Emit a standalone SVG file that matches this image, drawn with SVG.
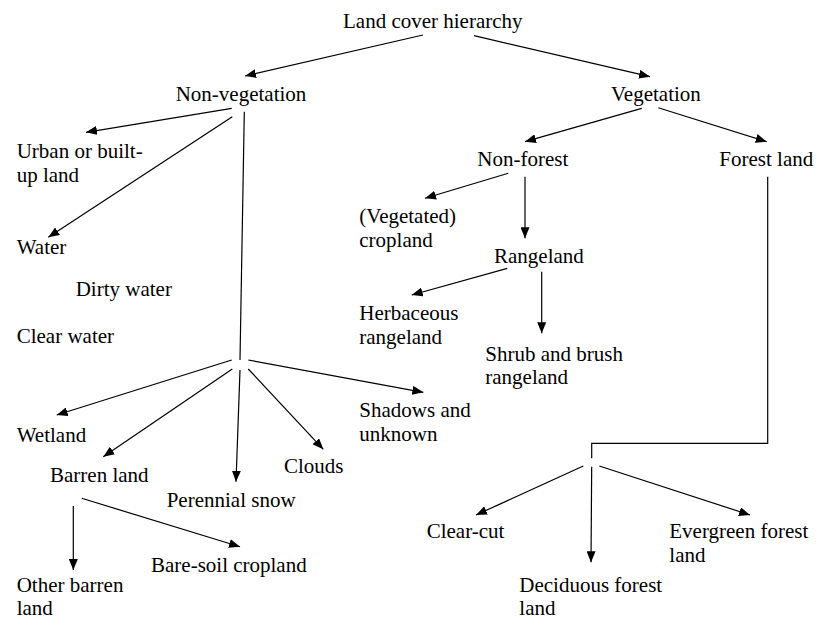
<svg xmlns="http://www.w3.org/2000/svg" width="817" height="620" viewBox="0 0 817 620">
<defs>
<style>
text{font-family:"Liberation Serif","DejaVu Serif",serif;font-size:21px;fill:#000}
.c line,.c polyline{stroke:#000;stroke-width:1.2;fill:none}
.a{marker-end:url(#ah)}
</style>
<marker id="ah" markerUnits="userSpaceOnUse" markerWidth="11" markerHeight="9" refX="11" refY="4.5" orient="auto">
<path d="M0,0 L11,4.5 L0,9 z" fill="#000"/>
</marker>
</defs>
<rect width="817" height="620" fill="#fff"/>
<g class="c" id="connectors">
<line class="a" x1="423" y1="35" x2="245" y2="76"/>
<line class="a" x1="474" y1="35.7" x2="650" y2="76.7"/>
<line class="a" x1="231.7" y1="108.3" x2="86" y2="132.3"/>
<line class="a" x1="232.3" y1="116.7" x2="48.3" y2="237.3"/>
<line x1="244.3" y1="111.7" x2="240" y2="360"/>
<line class="a" x1="231.7" y1="360" x2="56.7" y2="415"/>
<line class="a" x1="232.3" y1="369" x2="103.3" y2="456.7"/>
<line class="a" x1="240" y1="370" x2="236" y2="481.7"/>
<line class="a" x1="248.3" y1="369" x2="323.3" y2="449.3"/>
<line class="a" x1="248.3" y1="360" x2="423.3" y2="392.3"/>
<line class="a" x1="73.3" y1="506" x2="73.3" y2="570"/>
<line class="a" x1="81.7" y1="498.3" x2="240" y2="546.7"/>
<line class="a" x1="641.7" y1="108.3" x2="525" y2="141.7"/>
<line class="a" x1="658.3" y1="107.7" x2="766.7" y2="141.7"/>
<line class="a" x1="508.3" y1="173.3" x2="425" y2="198.3"/>
<line class="a" x1="525" y1="176.7" x2="525" y2="238.3"/>
<line class="a" x1="507.3" y1="268.3" x2="411.7" y2="295"/>
<line class="a" x1="541.7" y1="271.7" x2="541.7" y2="333.3"/>
<polyline points="767.7,176.7 767.7,443.3 591.7,443.3 591.7,458.3"/>
<line class="a" x1="583.3" y1="466" x2="476" y2="515"/>
<line class="a" x1="591.7" y1="466.7" x2="591" y2="562.3"/>
<line class="a" x1="599.3" y1="466" x2="750" y2="515"/>
</g>
<g font-family="Liberation Serif, DejaVu Serif, serif">
<g id="n-root"><text x="343" y="28.3">Land cover hierarchy</text></g>
<g id="n-nonveg"><text x="175.7" y="101">Non-vegetation</text></g>
<g id="n-veg"><text x="611" y="101">Vegetation</text></g>
<g id="n-urban"><text x="16.7" y="158">Urban or built-</text><text x="16.7" y="181.7">up land</text></g>
<g id="n-nonforest"><text x="477.3" y="165.7">Non-forest</text></g>
<g id="n-forest"><text x="719.3" y="165.7">Forest land</text></g>
<g id="n-vegcrop"><text x="359.3" y="223">(Vegetated)</text><text x="359.3" y="246.5">cropland</text></g>
<g id="n-water"><text x="16.7" y="254.3">Water</text></g>
<g id="n-dirty"><text x="75.7" y="296">Dirty water</text></g>
<g id="n-clear"><text x="16.7" y="343.3">Clear water</text></g>
<g id="n-range"><text x="494" y="262.7">Rangeland</text></g>
<g id="n-herb"><text x="359.3" y="320">Herbaceous</text><text x="359.3" y="343.5">rangeland</text></g>
<g id="n-shrub"><text x="485.3" y="360.7">Shrub and brush</text><text x="485.3" y="384.2">rangeland</text></g>
<g id="n-shadow"><text x="359.3" y="417">Shadows and</text><text x="359.3" y="440.5">unknown</text></g>
<g id="n-wetland"><text x="16.7" y="441.7">Wetland</text></g>
<g id="n-barren"><text x="50" y="481.7">Barren land</text></g>
<g id="n-clouds"><text x="284" y="473.3">Clouds</text></g>
<g id="n-snow"><text x="166.7" y="506.7">Perennial snow</text></g>
<g id="n-baresoil"><text x="151" y="571.7">Bare-soil cropland</text></g>
<g id="n-otherbarren"><text x="16.7" y="592">Other barren</text><text x="16.7" y="615.3">land</text></g>
<g id="n-clearcut"><text x="426.7" y="538.3">Clear-cut</text></g>
<g id="n-evergreen"><text x="669.3" y="538.3">Evergreen forest</text><text x="669.3" y="562">land</text></g>
<g id="n-deciduous"><text x="519.3" y="592">Deciduous forest</text><text x="519.3" y="615.3">land</text></g>
</g>
</svg>
